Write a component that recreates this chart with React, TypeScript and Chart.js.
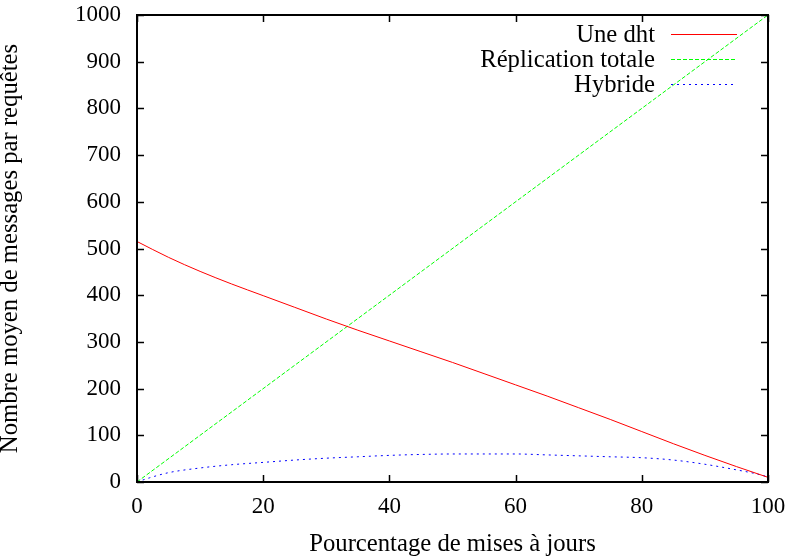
import React, { useEffect, useRef } from "react";
import { Chart, registerables } from "chart.js";

Chart.register(...registerables);

const xTitle = "Pourcentage de mises à jours";
const yTitle = "Nombre moyen de messages par requêtes";

const seriesLabels = ["Une dht", "Réplication totale", "Hybride"];

const dhtX = [0, 5, 10, 15, 20, 25, 30, 35, 40, 45, 50, 55, 60, 65, 70, 75, 80, 85, 90, 95, 100];
const dhtY = [515, 481, 451, 424, 399, 374, 349, 325, 302, 279, 256, 232, 208, 184, 159, 134, 108, 82, 57, 33, 10];

const replX = [0, 100];
const replY = [0, 1000];

const hybX = [0, 2, 5, 10, 15, 20, 25, 30, 35, 40, 45, 50, 55, 60, 65, 70, 75, 80, 85, 90, 95, 98, 100];
const hybY = [0, 9, 20, 30, 37, 42, 47, 51, 54, 57, 59, 60, 60, 60, 58, 56, 54, 52, 47, 38, 26, 18, 11];

const xTickValues = [0, 20, 40, 60, 80, 100];
const yTickValues = [0, 100, 200, 300, 400, 500, 600, 700, 800, 900, 1000];

const FONT = "'Liberation Serif', 'DejaVu Serif', serif";
const COLORS = ["#ff0000", "#00ff00", "#0000ff"];
const DASHES: number[][] = [[], [4, 2], [2, 4]];

const framePlugin = {
  id: "frame",
  afterDatasetsDraw(chart: any) {
    const { ctx, chartArea: a, scales } = chart;
    ctx.save();
    ctx.strokeStyle = "#000";
    ctx.lineWidth = 1.5;
    const tl = 7;
    ctx.beginPath();
    for (const v of xTickValues) {
      const px = Math.round(scales.x.getPixelForValue(v)) + 0.5;
      ctx.moveTo(px, a.bottom);
      ctx.lineTo(px, a.bottom - tl);
      ctx.moveTo(px, a.top);
      ctx.lineTo(px, a.top + tl);
    }
    for (const v of yTickValues) {
      const py = Math.round(scales.y.getPixelForValue(v)) + 0.5;
      ctx.moveTo(a.left, py);
      ctx.lineTo(a.left + tl, py);
      ctx.moveTo(a.right, py);
      ctx.lineTo(a.right - tl, py);
    }
    ctx.stroke();
    ctx.lineWidth = 2;
    ctx.strokeRect(a.left, a.top, a.right - a.left, a.bottom - a.top);

    // legend (gnuplot style: text right-aligned, sample to the right)
    ctx.font = "24.7px " + FONT;
    ctx.textAlign = "right";
    ctx.textBaseline = "middle";
    seriesLabels.forEach((label, i) => {
      const y = 34.5 + i * 25;
      ctx.fillStyle = "#000";
      ctx.fillText(label, 655, y + 1);
      ctx.beginPath();
      ctx.strokeStyle = COLORS[i];
      ctx.lineWidth = 1.2;
      ctx.setLineDash(DASHES[i]);
      ctx.moveTo(671, y);
      ctx.lineTo(737, y);
      ctx.stroke();
      ctx.setLineDash([]);
    });
    ctx.restore();
  },
};

export default function App() {
  const ref = useRef<HTMLCanvasElement>(null);
  useEffect(() => {
    const chart = new Chart(ref.current!, {
      type: "line",
      data: {
        datasets: [
          {
            label: seriesLabels[0],
            data: dhtX.map((x, i) => ({ x, y: dhtY[i] })),
            borderColor: COLORS[0],
            borderWidth: 1,
            pointRadius: 0,
            cubicInterpolationMode: "monotone",
          },
          {
            label: seriesLabels[1],
            data: replX.map((x, i) => ({ x, y: replY[i] })),
            borderColor: COLORS[1],
            borderWidth: 1,
            borderDash: DASHES[1],
            pointRadius: 0,
          },
          {
            label: seriesLabels[2],
            data: hybX.map((x, i) => ({ x, y: hybY[i] })),
            borderColor: COLORS[2],
            borderWidth: 1,
            borderDash: DASHES[2],
            pointRadius: 0,
            cubicInterpolationMode: "monotone",
          },
        ],
      },
      options: {
        animation: false,
        responsive: false,
        layout: { padding: { top: 15, right: 24, left: 0, bottom: 0 } },
        plugins: { legend: { display: false }, tooltip: { enabled: false } },
        scales: {
          x: {
            type: "linear",
            min: 0,
            max: 100,
            afterFit: (s: any) => {
              s.height = 76;
              s.paddingLeft = 0;
              s.paddingRight = 0;
            },
            afterBuildTicks: (s: any) => {
              s.ticks = xTickValues.map((v) => ({ value: v }));
            },
            grid: { display: false, drawTicks: false },
            border: { display: false },
            ticks: {
              color: "#000",
              padding: 11,
              font: { family: FONT, size: 23 },
              maxRotation: 0,
              callback: (v: any) => String(v),
            },
            title: {
              display: true,
              text: xTitle,
              color: "#000",
              font: { family: FONT, size: 24.7, lineHeight: 1 },
              padding: { top: 0, bottom: 0.65 },
            },
          },
          y: {
            type: "linear",
            min: 0,
            max: 1000,
            afterFit: (s: any) => {
              s.width = 137;
              s.paddingTop = 0;
              s.paddingBottom = 0;
            },
            afterBuildTicks: (s: any) => {
              s.ticks = yTickValues.map((v) => ({ value: v }));
            },
            grid: { display: false, drawTicks: false },
            border: { display: false },
            ticks: {
              color: "#000",
              padding: 16,
              font: { family: FONT, size: 23 },
              callback: (v: any) => String(v),
            },
            title: {
              display: true,
              text: yTitle,
              color: "#000",
              font: { family: FONT, size: 24.7, lineHeight: 0.8 },
              padding: { top: 1, bottom: 0 },
            },
          },
        },
      },
      plugins: [framePlugin],
    } as any);
    return () => chart.destroy();
  }, []);
  return (
    <div style={{ position: "fixed", left: 0, top: 0, width: 792, height: 558, background: "#fff" }}>
      <canvas ref={ref} width={792} height={558} />
    </div>
  );
}
